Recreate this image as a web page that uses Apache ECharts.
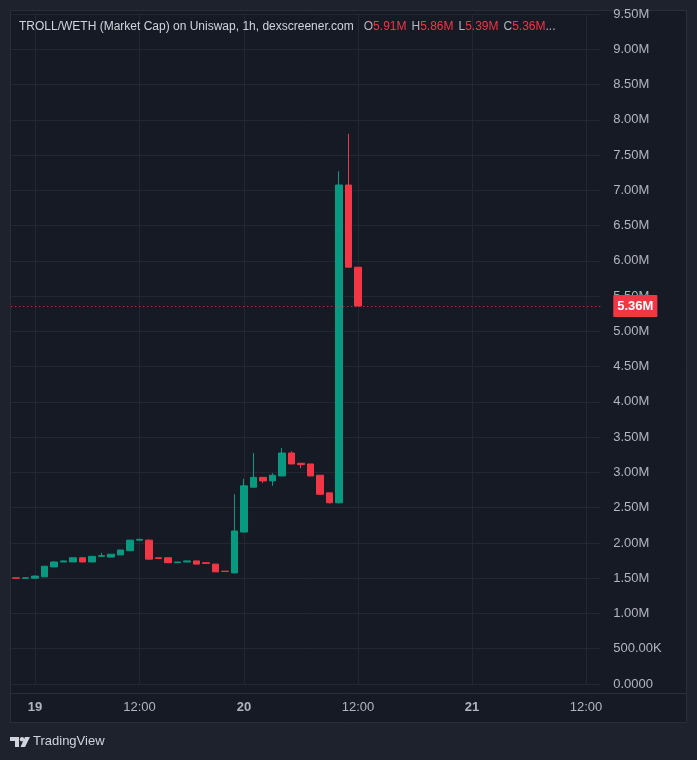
<!DOCTYPE html>
<html>
<head>
<meta charset="utf-8">
<script src="https://cdn.jsdelivr.net/npm/echarts@6/dist/echarts.min.js"></script>
<style>
  html, body { margin: 0; padding: 0; background: #1e222d; }
  #chart { width: 697px; height: 760px; }
</style>
</head>
<body>
<div id="chart"></div>
<script>
// Hourly slots (time axis is bar-indexed, as in TradingView)
const categories = [
  '18 22:00','18 23:00','19 00:00','19 01:00','19 02:00','19 03:00','19 04:00','19 05:00',
  '19 07:00','19 08:00','19 09:00','19 10:00','19 11:00','19 12:00','19 13:00','19 14:00',
  '19 15:00','19 16:00','19 17:00','19 19:00','19 20:00','19 21:00','19 22:00','19 23:00',
  '20 00:00','20 01:00','20 02:00','20 03:00','20 04:00','20 05:00','20 06:00','20 07:00',
  '20 08:00','20 09:00','20 10:00','20 11:00','20 12:00','20 13:00','20 14:00','20 15:00',
  '20 16:00','20 17:00','20 18:00','20 19:00','20 20:00','20 21:00','20 22:00','20 23:00',
  '21 00:00','21 01:00','21 02:00','21 03:00','21 04:00','21 05:00','21 06:00','21 07:00',
  '21 08:00','21 09:00','21 10:00','21 11:00','21 12:00','21 13:00'
];
// Market cap in millions
const openM  = [1.505,1.50,1.50,1.52,1.66,1.73,1.73,1.79,1.73,1.81,1.80,1.83,1.89,2.04,2.04,1.79,1.79,1.72,1.73,1.745,1.72,1.70,1.60,1.575,2.155,2.79,2.93,2.88,2.95,3.275,3.13,3.12,2.96,2.71,2.57,7.075,5.91];
const closeM = [1.50,1.505,1.53,1.67,1.73,1.745,1.79,1.73,1.81,1.82,1.84,1.90,2.04,2.05,1.77,1.78,1.72,1.73,1.745,1.70,1.71,1.59,1.595,2.17,2.81,2.93,2.88,2.96,3.275,3.12,3.11,2.95,2.69,2.57,7.075,5.91,5.36];
const lowM   = [1.50,1.50,1.50,1.52,1.66,1.73,1.73,1.73,1.73,1.81,1.80,1.83,1.89,2.04,1.77,1.78,1.72,1.72,1.73,1.70,1.71,1.59,1.59,1.57,2.15,2.79,2.85,2.81,2.95,3.12,3.06,2.95,2.69,2.56,2.56,5.91,5.36];
const highM  = [1.51,1.51,1.54,1.67,1.74,1.75,1.79,1.79,1.81,1.86,1.84,1.90,2.04,2.06,2.05,1.79,1.80,1.73,1.75,1.745,1.72,1.70,1.60,2.69,2.91,3.275,2.93,2.99,3.346,3.30,3.13,3.12,2.96,2.71,7.27,7.80,5.91];
const lastPriceM = 5.36;
const headerOHLC = [['O','5.91M'],['H','5.86M'],['L','5.39M'],['C','5.36M']];
const yTickMin = 0, yTickMax = 9.5, yTickStep = 0.5;

const UP = '#089981', DOWN = '#f23645';
const GRID = '#232733';
const candleData = openM.map((o, i) => [o, closeM[i], lowM[i], highM[i]]);

function isTick(v) { return v.endsWith('00:00') || v.endsWith('12:00'); }

let headerText = '{a|TROLL/WETH (Market Cap) on Uniswap, 1h, dexscreener.com}  ';
headerText += headerOHLC.map(p => '{g|' + p[0] + '}{r|' + p[1] + '}').join(' ') + '{g|...}';

const SLOT = 9.5, GRID_LEFT = 11.25, GRID_TOP = 14, GRID_BOTTOM = 76;
const nSlots = categories.length;
const HFS = 12;
const FONT = '"Liberation Sans", Arial, sans-serif';

const chart = echarts.init(document.getElementById('chart'), null, { renderer: 'canvas' });
chart.setOption({
  animation: false,
  backgroundColor: '#1e222d',
  textStyle: { fontFamily: FONT },
  title: {
    left: 14, top: 13,
    text: headerText,
    textStyle: {
      fontWeight: 'normal',
      fontFamily: FONT,
      rich: {
        a: { color: '#d1d4dc', fontSize: HFS, fontWeight: 'normal', fontFamily: FONT },
        g: { color: '#b2b5be', fontSize: HFS, fontWeight: 'normal', fontFamily: FONT },
        r: { color: DOWN, fontSize: HFS, fontWeight: 'normal', fontFamily: FONT }
      }
    }
  },
  graphic: [
    { type: 'rect', z: -10, shape: { x: 10.5, y: 10.5, width: 676, height: 712 },
      style: { fill: '#161a25', stroke: '#2a2e39', lineWidth: 1 } },
    { type: 'line', z: 10, shape: { x1: 10.5, y1: 693.5, x2: 686.5, y2: 693.5 },
      style: { stroke: '#2a2e39', lineWidth: 1 } },
    { type: 'group', left: 10, top: 737, children: [
      { type: 'polygon', shape: { points: [[0,0],[9,0],[9,10],[5,10],[5,4],[0,4]] }, style: { fill: '#d1d4dc' } },
      { type: 'circle', shape: { cx: 12, cy: 2.2, r: 2.2 }, style: { fill: '#d1d4dc' } },
      { type: 'polygon', shape: { points: [[15,0],[20,0],[15,10],[10.5,10]] }, style: { fill: '#d1d4dc' } }
    ]},
    { type: 'text', left: 33, top: 735, style: { text: 'TradingView', fill: '#d1d4dc', fontSize: 13, fontFamily: FONT } }
  ],
  grid: [
    { left: GRID_LEFT, width: nSlots * SLOT, top: GRID_TOP, bottom: GRID_BOTTOM, containLabel: false },
    { left: GRID_LEFT + SLOT / 2, width: (nSlots - 1) * SLOT, top: GRID_TOP, bottom: GRID_BOTTOM, containLabel: false }
  ],
  xAxis: [{
    type: 'category',
    gridIndex: 0,
    data: categories,
    boundaryGap: true,
    axisLine: { show: false },
    axisTick: { show: false },
    axisLabel: {
      interval: (i, v) => isTick(v),
      margin: 17,
      color: '#b2b5be',
      fontSize: 13,
      formatter: v => v.endsWith('00:00') ? '{b|' + String(parseInt(v.slice(0, 2), 10)) + '}' : '12:00',
      rich: { b: { fontWeight: 'bold', color: '#b2b5be', fontSize: 13 } }
    },
    splitLine: { show: false }
  }, {
    type: 'category',
    gridIndex: 1,
    data: categories,
    boundaryGap: false,
    axisLine: { show: false },
    axisTick: { show: false },
    axisLabel: { show: false },
    splitLine: { show: true, interval: (i, v) => isTick(v), lineStyle: { color: GRID, width: 1 } }
  }],
  yAxis: [{
    type: 'value',
    gridIndex: 0,
    position: 'right',
    min: yTickMin, max: yTickMax, interval: yTickStep,
    axisLine: { show: false },
    axisTick: { show: false },
    axisLabel: {
      margin: 13, align: 'left', color: '#b2b5be', fontSize: 13,
      formatter: v => v === 0 ? '0.0000' : (v < 1 ? (v * 1000).toFixed(2) + 'K' : v.toFixed(2) + 'M')
    },
    splitLine: { show: true, lineStyle: { color: GRID, width: 1 } }
  }, {
    type: 'value',
    gridIndex: 1,
    min: yTickMin, max: yTickMax, interval: yTickStep,
    show: false
  }],
  series: [{
    type: 'candlestick',
    xAxisIndex: 0, yAxisIndex: 0,
    data: candleData,
    barWidth: 7,
    itemStyle: { color: UP, color0: DOWN, borderColor: UP, borderColor0: DOWN, borderWidth: 1 },
    markLine: {
      silent: true,
      symbol: 'none',
      data: [{ yAxis: lastPriceM }],
      lineStyle: { color: DOWN, type: [1, 3], width: 1 },
      label: {
        position: 'end', distance: 13,
        formatter: lastPriceM.toFixed(2) + 'M',
        backgroundColor: DOWN, color: '#ffffff', fontSize: 13, fontWeight: 'bold',
        padding: [5, 4, 4, 4], borderRadius: 1
      }
    }
  }]
});
</script>
</body>
</html>
